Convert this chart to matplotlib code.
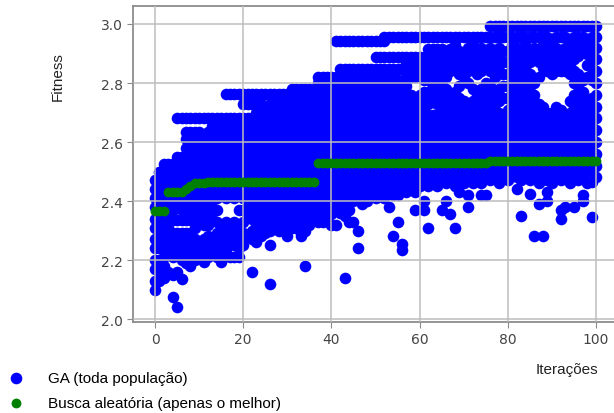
import matplotlib
matplotlib.use("Agg")
import matplotlib.pyplot as plt
import numpy as np

# Fitness of every individual in the GA population, one list per iteration
ga_pop_00_19 = [
    [2.10, 2.13, 2.17, 2.20, 2.24, 2.27, 2.31, 2.34, 2.38, 2.41, 2.44, 2.47],
    [2.13, 2.16, 2.20, 2.24, 2.28, 2.32, 2.36, 2.40, 2.44, 2.47, 2.50],
    [2.14, 2.18, 2.21, 2.25, 2.29, 2.33, 2.37, 2.41, 2.45, 2.48, 2.51, 2.525],
    [2.16, 2.23, 2.27, 2.31, 2.35, 2.39, 2.43, 2.47, 2.50, 2.525],
    [2.075, 2.15, 2.21, 2.25, 2.29, 2.335, 2.37, 2.41, 2.45, 2.49, 2.525],
    [2.04, 2.16, 2.23, 2.27, 2.29, 2.335, 2.39, 2.43, 2.47, 2.51, 2.55, 2.68],
    [2.135, 2.20, 2.25, 2.29, 2.335, 2.37, 2.41, 2.45, 2.49, 2.53, 2.55, 2.68],
    [2.19, 2.23, 2.27, 2.29, 2.335, 2.39, 2.43, 2.47, 2.51, 2.55, 2.58, 2.61, 2.635, 2.68],
    [2.18, 2.21, 2.25, 2.29, 2.335, 2.37, 2.41, 2.45, 2.49, 2.53, 2.57, 2.60, 2.635, 2.68],
    [2.20, 2.24, 2.27, 2.31, 2.35, 2.39, 2.43, 2.47, 2.51, 2.55, 2.59, 2.62, 2.635, 2.68],
    [2.21, 2.25, 2.33, 2.37, 2.41, 2.45, 2.49, 2.53, 2.57, 2.61, 2.635, 2.68],
    [2.195, 2.23, 2.27, 2.32, 2.35, 2.39, 2.43, 2.47, 2.51, 2.55, 2.59, 2.62, 2.68],
    [2.21, 2.245, 2.28, 2.32, 2.36, 2.40, 2.44, 2.48, 2.52, 2.56, 2.60, 2.635, 2.68],
    [2.22, 2.26, 2.34, 2.38, 2.42, 2.46, 2.50, 2.54, 2.58, 2.62, 2.655, 2.68],
    [2.21, 2.25, 2.29, 2.33, 2.37, 2.41, 2.45, 2.49, 2.53, 2.57, 2.61, 2.64, 2.68],
    [2.195, 2.22, 2.27, 2.31, 2.42, 2.46, 2.50, 2.54, 2.58, 2.62, 2.655, 2.68],
    [2.23, 2.26, 2.30, 2.33, 2.41, 2.45, 2.49, 2.53, 2.57, 2.61, 2.645, 2.68, 2.763],
    [2.21, 2.27, 2.31, 2.42, 2.47, 2.51, 2.55, 2.59, 2.63, 2.66, 2.68, 2.763],
    [2.21, 2.25, 2.29, 2.33, 2.41, 2.45, 2.49, 2.53, 2.57, 2.61, 2.65, 2.68, 2.763],
    [2.21, 2.24, 2.28, 2.32, 2.37, 2.43, 2.47, 2.51, 2.55, 2.59, 2.63, 2.66, 2.68, 2.763],
]
ga_pop_20_39 = [
    [2.25, 2.29, 2.33, 2.37, 2.41, 2.45, 2.49, 2.53, 2.57, 2.61, 2.65, 2.68, 2.73, 2.763],
    [2.28, 2.35, 2.39, 2.43, 2.47, 2.51, 2.55, 2.59, 2.63, 2.67, 2.68, 2.73, 2.763],
    [2.16, 2.27, 2.30, 2.34, 2.38, 2.42, 2.46, 2.50, 2.54, 2.58, 2.62, 2.66, 2.68, 2.73, 2.763],
    [2.26, 2.32, 2.36, 2.40, 2.44, 2.48, 2.52, 2.56, 2.60, 2.64, 2.68, 2.70, 2.73, 2.763],
    [2.28, 2.31, 2.34, 2.38, 2.42, 2.46, 2.50, 2.54, 2.58, 2.62, 2.66, 2.70, 2.73, 2.763],
    [2.29, 2.32, 2.36, 2.40, 2.44, 2.48, 2.52, 2.56, 2.60, 2.64, 2.68, 2.72, 2.763],
    [2.12, 2.25, 2.30, 2.34, 2.38, 2.42, 2.46, 2.50, 2.54, 2.58, 2.62, 2.66, 2.70, 2.73, 2.763],
    [2.31, 2.36, 2.40, 2.44, 2.48, 2.52, 2.56, 2.60, 2.64, 2.68, 2.72, 2.763],
    [2.30, 2.34, 2.38, 2.42, 2.46, 2.50, 2.54, 2.58, 2.62, 2.66, 2.70, 2.74, 2.763],
    [2.305, 2.33, 2.36, 2.40, 2.44, 2.48, 2.52, 2.56, 2.60, 2.64, 2.68, 2.72, 2.763],
    [2.28, 2.32, 2.35, 2.38, 2.42, 2.46, 2.50, 2.54, 2.58, 2.62, 2.66, 2.70, 2.74, 2.763],
    [2.31, 2.34, 2.37, 2.40, 2.44, 2.48, 2.52, 2.56, 2.60, 2.64, 2.68, 2.72, 2.75, 2.78],
    [2.31, 2.35, 2.38, 2.42, 2.46, 2.50, 2.54, 2.58, 2.62, 2.66, 2.70, 2.74, 2.78],
    [2.28, 2.29, 2.33, 2.37, 2.40, 2.44, 2.48, 2.52, 2.56, 2.60, 2.64, 2.68, 2.72, 2.76, 2.78],
    [2.18, 2.30, 2.34, 2.38, 2.42, 2.46, 2.50, 2.54, 2.58, 2.62, 2.66, 2.70, 2.74, 2.78],
    [2.32, 2.36, 2.40, 2.44, 2.48, 2.52, 2.56, 2.60, 2.64, 2.68, 2.72, 2.76, 2.78],
    [2.345, 2.38, 2.42, 2.46, 2.50, 2.54, 2.58, 2.62, 2.66, 2.70, 2.74, 2.78],
    [2.33, 2.37, 2.41, 2.45, 2.49, 2.53, 2.57, 2.61, 2.65, 2.69, 2.73, 2.76, 2.78, 2.80, 2.82],
    [2.33, 2.36, 2.40, 2.44, 2.48, 2.52, 2.56, 2.60, 2.64, 2.68, 2.72, 2.76, 2.80, 2.82],
    [2.34, 2.38, 2.42, 2.46, 2.50, 2.54, 2.58, 2.62, 2.66, 2.70, 2.74, 2.78, 2.80, 2.82],
]
ga_pop_40_59 = [
    [2.32, 2.355, 2.39, 2.43, 2.47, 2.51, 2.55, 2.59, 2.63, 2.67, 2.71, 2.75, 2.78, 2.82],
    [2.32, 2.37, 2.41, 2.45, 2.49, 2.53, 2.57, 2.61, 2.65, 2.69, 2.73, 2.77, 2.80, 2.82, 2.943],
    [2.36, 2.40, 2.44, 2.48, 2.52, 2.56, 2.60, 2.64, 2.68, 2.72, 2.76, 2.80, 2.82, 2.847, 2.943],
    [2.14, 2.35, 2.39, 2.42, 2.46, 2.50, 2.54, 2.58, 2.62, 2.66, 2.70, 2.74, 2.78, 2.82, 2.847, 2.943],
    [2.33, 2.37, 2.41, 2.45, 2.49, 2.53, 2.57, 2.61, 2.65, 2.69, 2.73, 2.77, 2.80, 2.847, 2.943],
    [2.33, 2.40, 2.44, 2.48, 2.52, 2.56, 2.60, 2.64, 2.68, 2.72, 2.76, 2.80, 2.82, 2.847, 2.943],
    [2.24, 2.30, 2.42, 2.46, 2.50, 2.54, 2.58, 2.62, 2.66, 2.70, 2.74, 2.78, 2.82, 2.847, 2.943],
    [2.39, 2.43, 2.47, 2.51, 2.55, 2.59, 2.63, 2.67, 2.71, 2.75, 2.79, 2.82, 2.847, 2.943],
    [2.40, 2.44, 2.48, 2.52, 2.56, 2.60, 2.64, 2.68, 2.72, 2.76, 2.80, 2.82, 2.847, 2.943],
    [2.42, 2.45, 2.49, 2.53, 2.57, 2.61, 2.65, 2.69, 2.73, 2.77, 2.81, 2.847, 2.943],
    [2.41, 2.46, 2.50, 2.54, 2.58, 2.62, 2.66, 2.70, 2.74, 2.78, 2.82, 2.847, 2.888, 2.943],
    [2.43, 2.47, 2.51, 2.55, 2.59, 2.63, 2.67, 2.71, 2.75, 2.79, 2.82, 2.847, 2.888, 2.943],
    [2.41, 2.44, 2.48, 2.52, 2.56, 2.60, 2.64, 2.68, 2.72, 2.76, 2.80, 2.847, 2.888, 2.943, 2.955],
    [2.38, 2.43, 2.47, 2.51, 2.55, 2.59, 2.63, 2.67, 2.71, 2.75, 2.79, 2.82, 2.847, 2.888, 2.955],
    [2.28, 2.42, 2.46, 2.50, 2.54, 2.58, 2.62, 2.66, 2.70, 2.74, 2.78, 2.82, 2.847, 2.888, 2.955],
    [2.33, 2.42, 2.45, 2.49, 2.53, 2.57, 2.61, 2.65, 2.69, 2.73, 2.77, 2.81, 2.847, 2.888, 2.955],
    [2.235, 2.255, 2.44, 2.48, 2.52, 2.56, 2.60, 2.64, 2.68, 2.72, 2.76, 2.80, 2.847, 2.888, 2.955],
    [2.43, 2.47, 2.51, 2.55, 2.59, 2.63, 2.67, 2.71, 2.75, 2.79, 2.82, 2.847, 2.868, 2.888, 2.955],
    [2.44, 2.48, 2.52, 2.56, 2.60, 2.64, 2.68, 2.72, 2.76, 2.82, 2.847, 2.868, 2.888, 2.955],
    [2.37, 2.43, 2.47, 2.51, 2.55, 2.59, 2.63, 2.67, 2.71, 2.75, 2.82, 2.847, 2.868, 2.888, 2.955],
]
ga_pop_60_79 = [
    [2.45, 2.49, 2.53, 2.57, 2.61, 2.65, 2.69, 2.73, 2.76, 2.83, 2.847, 2.868, 2.888, 2.955],
    [2.37, 2.40, 2.46, 2.50, 2.54, 2.58, 2.62, 2.66, 2.70, 2.74, 2.77, 2.81, 2.847, 2.868, 2.888, 2.955],
    [2.31, 2.45, 2.49, 2.53, 2.57, 2.61, 2.65, 2.69, 2.73, 2.77, 2.81, 2.847, 2.868, 2.888, 2.915, 2.955],
    [2.46, 2.50, 2.54, 2.58, 2.62, 2.66, 2.69, 2.75, 2.79, 2.83, 2.868, 2.888, 2.915, 2.955],
    [2.45, 2.49, 2.53, 2.57, 2.61, 2.65, 2.69, 2.73, 2.77, 2.81, 2.847, 2.888, 2.915, 2.955],
    [2.37, 2.47, 2.51, 2.55, 2.59, 2.63, 2.67, 2.71, 2.75, 2.79, 2.83, 2.868, 2.915, 2.955],
    [2.40, 2.46, 2.50, 2.54, 2.58, 2.62, 2.66, 2.70, 2.74, 2.78, 2.82, 2.86, 2.90, 2.955],
    [2.355, 2.48, 2.52, 2.56, 2.60, 2.64, 2.68, 2.72, 2.76, 2.84, 2.88, 2.915, 2.955],
    [2.31, 2.45, 2.49, 2.53, 2.57, 2.61, 2.65, 2.69, 2.73, 2.77, 2.85, 2.89, 2.93, 2.955],
    [2.43, 2.47, 2.51, 2.55, 2.59, 2.63, 2.67, 2.71, 2.75, 2.79, 2.83, 2.87, 2.91, 2.955],
    [2.46, 2.50, 2.54, 2.58, 2.62, 2.66, 2.70, 2.74, 2.82, 2.86, 2.90, 2.955],
    [2.38, 2.42, 2.48, 2.52, 2.56, 2.60, 2.64, 2.68, 2.72, 2.80, 2.84, 2.88, 2.92, 2.955],
    [2.46, 2.50, 2.54, 2.58, 2.62, 2.66, 2.70, 2.74, 2.78, 2.85, 2.89, 2.93, 2.955],
    [2.48, 2.52, 2.56, 2.60, 2.64, 2.68, 2.72, 2.76, 2.83, 2.87, 2.91, 2.955],
    [2.42, 2.46, 2.50, 2.54, 2.58, 2.62, 2.66, 2.70, 2.74, 2.78, 2.84, 2.88, 2.92, 2.955],
    [2.42, 2.48, 2.52, 2.56, 2.60, 2.64, 2.68, 2.72, 2.76, 2.80, 2.86, 2.90, 2.955],
    [2.47, 2.51, 2.55, 2.59, 2.63, 2.67, 2.71, 2.75, 2.79, 2.84, 2.88, 2.92, 2.955, 2.993],
    [2.49, 2.53, 2.57, 2.61, 2.65, 2.69, 2.73, 2.77, 2.82, 2.86, 2.90, 2.955, 2.993],
    [2.46, 2.50, 2.54, 2.58, 2.62, 2.66, 2.70, 2.74, 2.78, 2.84, 2.88, 2.92, 2.955, 2.993],
    [2.48, 2.52, 2.56, 2.60, 2.64, 2.68, 2.75, 2.79, 2.83, 2.87, 2.91, 2.955, 2.993],
]
ga_pop_80_100 = [
    [2.47, 2.51, 2.55, 2.59, 2.63, 2.67, 2.71, 2.75, 2.79, 2.83, 2.87, 2.91, 2.955, 2.993],
    [2.49, 2.53, 2.57, 2.61, 2.65, 2.69, 2.73, 2.77, 2.81, 2.85, 2.89, 2.93, 2.955, 2.993],
    [2.44, 2.48, 2.52, 2.56, 2.60, 2.64, 2.68, 2.72, 2.76, 2.80, 2.84, 2.88, 2.92, 2.955, 2.993],
    [2.35, 2.47, 2.51, 2.55, 2.59, 2.63, 2.67, 2.71, 2.75, 2.79, 2.83, 2.87, 2.91, 2.955, 2.993],
    [2.49, 2.53, 2.57, 2.61, 2.65, 2.69, 2.73, 2.77, 2.81, 2.85, 2.89, 2.93, 2.955, 2.993],
    [2.425, 2.47, 2.51, 2.55, 2.59, 2.63, 2.67, 2.71, 2.75, 2.79, 2.83, 2.87, 2.91, 2.955, 2.993],
    [2.28, 2.48, 2.52, 2.56, 2.60, 2.64, 2.68, 2.72, 2.76, 2.80, 2.88, 2.92, 2.955, 2.993],
    [2.39, 2.46, 2.50, 2.54, 2.58, 2.62, 2.66, 2.70, 2.73, 2.82, 2.87, 2.91, 2.955, 2.993],
    [2.28, 2.48, 2.52, 2.56, 2.60, 2.64, 2.68, 2.72, 2.85, 2.89, 2.93, 2.955, 2.993],
    [2.40, 2.43, 2.47, 2.51, 2.55, 2.59, 2.63, 2.67, 2.70, 2.84, 2.88, 2.92, 2.955, 2.993],
    [2.46, 2.50, 2.54, 2.58, 2.62, 2.66, 2.70, 2.83, 2.86, 2.90, 2.94, 2.993],
    [2.48, 2.52, 2.56, 2.60, 2.64, 2.68, 2.72, 2.84, 2.88, 2.92, 2.955, 2.993],
    [2.34, 2.37, 2.47, 2.51, 2.55, 2.59, 2.63, 2.67, 2.71, 2.84, 2.87, 2.91, 2.955, 2.993],
    [2.38, 2.49, 2.53, 2.57, 2.61, 2.65, 2.69, 2.84, 2.88, 2.92, 2.955, 2.993],
    [2.46, 2.50, 2.54, 2.58, 2.62, 2.66, 2.70, 2.74, 2.83, 2.86, 2.90, 2.94, 2.993],
    [2.38, 2.48, 2.52, 2.56, 2.60, 2.64, 2.68, 2.72, 2.76, 2.80, 2.84, 2.88, 2.92, 2.955, 2.993],
    [2.47, 2.51, 2.55, 2.59, 2.63, 2.67, 2.71, 2.75, 2.79, 2.83, 2.89, 2.93, 2.955, 2.993],
    [2.40, 2.42, 2.49, 2.53, 2.57, 2.61, 2.65, 2.69, 2.73, 2.77, 2.81, 2.91, 2.955, 2.993],
    [2.46, 2.50, 2.54, 2.58, 2.62, 2.66, 2.70, 2.74, 2.82, 2.86, 2.90, 2.94, 2.993],
    [2.345, 2.465, 2.51, 2.55, 2.59, 2.63, 2.67, 2.71, 2.75, 2.81, 2.85, 2.89, 2.93, 2.955, 2.993],
    [2.48, 2.52, 2.56, 2.60, 2.64, 2.68, 2.72, 2.76, 2.80, 2.84, 2.88, 2.92, 2.955, 2.993],
]

# Best fitness found so far by random search, one value per iteration
busca_melhor = [
    2.366, 2.366, 2.366, 2.43, 2.43, 2.43, 2.43, 2.44, 2.45, 2.46,
    2.462, 2.462, 2.463, 2.463, 2.464, 2.464, 2.464, 2.465, 2.465, 2.465,
    2.465, 2.465, 2.465, 2.465, 2.465, 2.465, 2.466, 2.466, 2.466, 2.466,
    2.466, 2.466, 2.466, 2.466, 2.466, 2.466, 2.466, 2.53, 2.53, 2.53,
    2.53, 2.53, 2.53, 2.53, 2.53, 2.53, 2.53, 2.53, 2.53, 2.53,
    2.53, 2.53, 2.53, 2.53, 2.53, 2.53, 2.53, 2.53, 2.53, 2.53,
    2.53, 2.53, 2.53, 2.53, 2.53, 2.53, 2.53, 2.53, 2.53, 2.53,
    2.53, 2.53, 2.53, 2.53, 2.53, 2.53, 2.535, 2.535, 2.535, 2.535,
    2.535, 2.535, 2.535, 2.535, 2.535, 2.535, 2.535, 2.535, 2.535, 2.535,
    2.535, 2.535, 2.535, 2.535, 2.535, 2.535, 2.535, 2.535, 2.535, 2.535,
    2.535,
]

x_ticks = [0, 20, 40, 60, 80, 100]
y_ticks = [2.0, 2.2, 2.4, 2.6, 2.8, 3.0]
label_ga = "GA (toda população)"
label_busca = "Busca aleatória (apenas o melhor)"

ga_pop = ga_pop_00_19 + ga_pop_20_39 + ga_pop_40_59 + ga_pop_60_79 + ga_pop_80_100
ga_x = np.concatenate([np.full(len(v), i) for i, v in enumerate(ga_pop)])
ga_y = np.concatenate([np.array(v) for v in ga_pop])
busca_x = np.arange(len(busca_melhor))

W, H = 614, 414
fig = plt.figure(figsize=(W / 100, H / 100), dpi=100)
ax = fig.add_axes([133 / W, 1 - 323 / H, 485 / W, 316 / H])

ax.scatter(ga_x, ga_y, s=70, c="blue", linewidths=0, label=label_ga, zorder=2)
ax.scatter(busca_x, busca_melhor, s=50, c="green", linewidths=0, label=label_busca, zorder=3)

ax.set_xlim(-5, 105)
ax.set_ylim(1.99, 3.061)
ax.set_xticks(x_ticks)
ax.set_yticks(y_ticks)
ax.set_yticklabels([f"{v:.1f}" for v in y_ticks])
ax.grid(True, color="#bdbdbd", linewidth=1.1)
ax.set_axisbelow(False)
for sp in ax.spines.values():
    sp.set_color("#8c8c8c")
    sp.set_linewidth(1.3)
ax.tick_params(colors="#8c8c8c", labelcolor="#444444", labelsize=10, length=4)
for lab in ax.get_xticklabels() + ax.get_yticklabels():
    lab.set_fontfamily("DejaVu Sans")

ax.set_ylabel("Fitness", family="Liberation Sans", fontsize=11, color="#222222")
ax.yaxis.set_label_coords(-0.14, 0.78)
ax.set_xlabel("Iterações", family="Liberation Sans", fontsize=11, color="#222222")
ax.xaxis.set_label_coords(0.895, -0.128)

fig.legend(loc="upper left", bbox_to_anchor=(0.006, 1 - 367 / H), frameon=False,
           prop={"family": "Liberation Sans", "size": 11}, handletextpad=1.6,
           labelspacing=0.75, borderaxespad=0.0, handlelength=1.0, borderpad=0.3,
           markerscale=1.0)

fig.savefig("out.png", dpi=100)
